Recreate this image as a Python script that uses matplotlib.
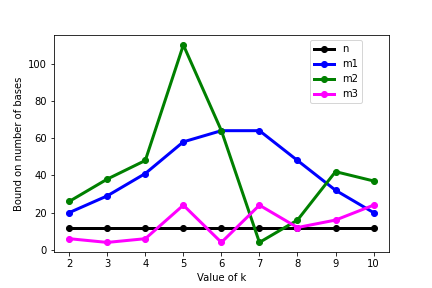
import matplotlib
matplotlib.use('Agg')
import matplotlib.pyplot as plt

k = [2, 3, 4, 5, 6, 7, 8, 9, 10]
n = [12, 12, 12, 12, 12, 12, 12, 12, 12]
m1 = [20, 29, 41, 58, 64, 64, 48, 32, 20]
m2 = [26, 38, 48, 110, 64, 4, 16, 42, 37]
m3 = [6, 4, 6, 24, 4, 24, 12, 16, 24]

fig, ax = plt.subplots(figsize=(6, 4), dpi=72)
fig.subplots_adjust(bottom=0.124, top=0.878)

ax.plot(k, n, 'o-', color='black', linewidth=3, label='n')
ax.plot(k, m1, 'o-', color='blue', linewidth=3, label='m1')
ax.plot(k, m2, 'o-', color='green', linewidth=3, label='m2')
ax.plot(k, m3, 'o-', color='magenta', linewidth=3, label='m3')

ax.set_xlabel('Value of k')
ax.set_ylabel('Bound on number of bases')
ax.set_xticks(k)
ax.legend(loc='upper right', bbox_to_anchor=(0.935, 1.0))

plt.savefig('out.png', dpi=72)
